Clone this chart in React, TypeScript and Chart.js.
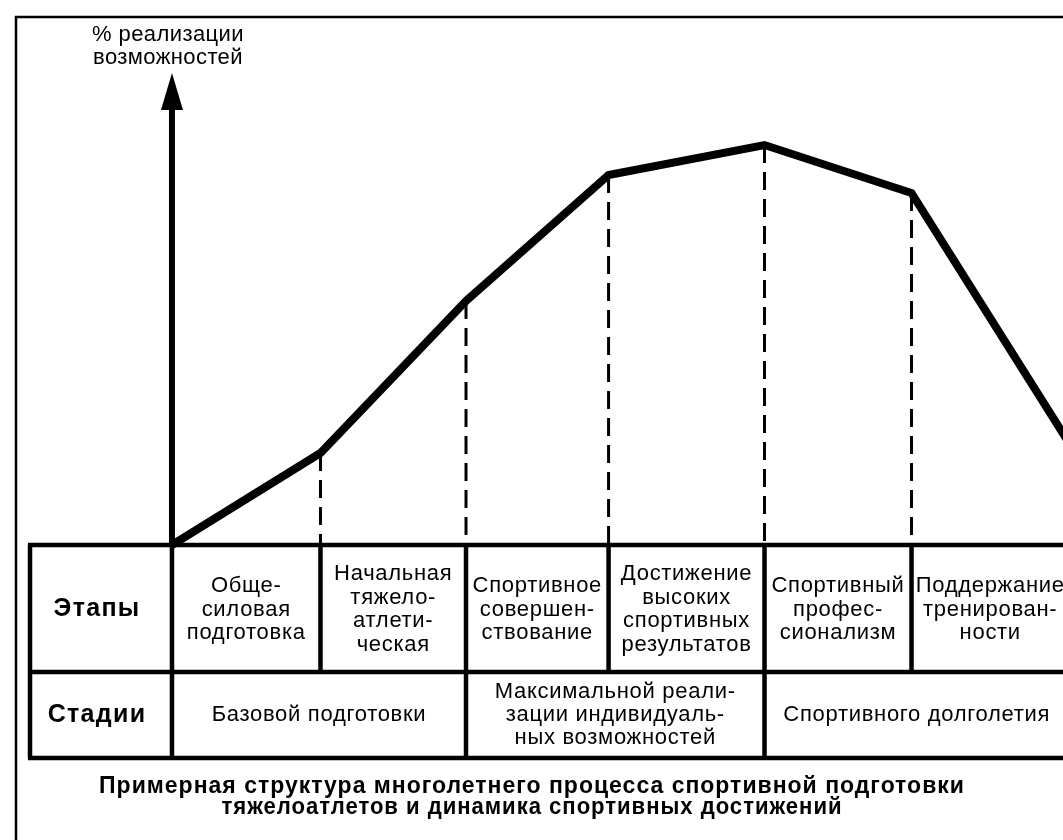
import React, { useEffect, useRef } from "react";
import { Chart, registerables } from "chart.js";

Chart.register(...registerables);

// Stage boundaries along the time axis (stage units)
const boundaryX = [0, 1.0, 1.98, 2.94, 3.99, 4.98, 6.04];
// Realization curve (% of possibilities, arbitrary 0..100 scale)
const realizationX = [0, 1.0, 1.98, 2.94, 3.99, 4.98, 6.04];
const realizationY = [0, 23, 61, 92.5, 100, 88, 25.5];

const stageLabels = [
  ["Обще-", "силовая", "подготовка"],
  ["Начальная", "тяжело-", "атлети-", "ческая"],
  ["Спортивное", "совершен-", "ствование"],
  ["Достижение", "высоких", "спортивных", "результатов"],
  ["Спортивный", "профес-", "сионализм"],
  ["Поддержание", "тренирован-", "ности"],
];
const periodLabels = [
  ["Базовой подготовки"],
  ["Максимальной реали-", "зации индивидуаль-", "ных возможностей"],
  ["Спортивного долголетия"],
];
const periodSpans = [
  [0, 2],
  [2, 4],
  [4, 6],
];
const rowHeaders = ["Этапы", "Стадии"];
const axisTitle = ["% реализации", "возможностей"];
const chartTitle = [
  "Примерная структура многолетнего процесса спортивной подготовки",
  "тяжелоатлетов и динамика спортивных достижений",
];

const FONT = '"Liberation Sans", Arial, Helvetica, sans-serif';

function setSpacing(ctx: any, v: string) {
  if ("letterSpacing" in ctx) ctx.letterSpacing = v;
}

const diagramPlugin = {
  id: "diagram",
  beforeDatasetsDraw(chart: any) {
    const ctx: CanvasRenderingContext2D = chart.ctx;
    const xs = chart.scales.x;
    const ys = chart.scales.y;
    const W = chart.width;
    const H = chart.height;
    const px = (v: number) => xs.getPixelForValue(v);
    const top = ys.getPixelForValue(0);
    const row1 = top + 127;
    const row2 = top + 213;
    const tableLeft = 30;
    const meta = chart.getDatasetMeta(0);

    ctx.save();
    ctx.fillStyle = "#fff";
    ctx.fillRect(0, 0, W, H);
    ctx.strokeStyle = "#000";
    ctx.fillStyle = "#000";

    // outer frame
    ctx.lineWidth = 2.5;
    ctx.beginPath();
    ctx.moveTo(16, H);
    ctx.lineTo(16, 17);
    ctx.lineTo(W, 17);
    ctx.stroke();

    // dashed drop lines from each curve vertex
    ctx.lineWidth = 3;
    ctx.setLineDash([18, 9]);
    meta.data.forEach((pt: any, i: number) => {
      if (i === 0) return;
      ctx.beginPath();
      ctx.moveTo(pt.x, pt.y);
      ctx.lineTo(pt.x, top);
      ctx.stroke();
    });
    ctx.setLineDash([]);

    // table
    ctx.lineWidth = 4.5;
    ctx.beginPath();
    [top, row1, row2].forEach((y) => {
      ctx.moveTo(tableLeft - 2, y);
      ctx.lineTo(W, y);
    });
    ctx.moveTo(tableLeft, top);
    ctx.lineTo(tableLeft, row2);
    boundaryX.forEach((b) => {
      ctx.moveTo(px(b), top);
      ctx.lineTo(px(b), row1);
    });
    const periodEdges = new Set<number>();
    periodSpans.forEach((s) => {
      periodEdges.add(s[0]);
      periodEdges.add(s[1]);
    });
    periodEdges.forEach((i) => {
      ctx.moveTo(px(boundaryX[i]), row1);
      ctx.lineTo(px(boundaryX[i]), row2);
    });
    ctx.stroke();

    // y axis with arrow
    const ax = px(0);
    ctx.lineWidth = 6;
    ctx.beginPath();
    ctx.moveTo(ax, top);
    ctx.lineTo(ax, 106);
    ctx.stroke();
    ctx.beginPath();
    ctx.moveTo(ax, 73);
    ctx.lineTo(ax - 11, 110);
    ctx.lineTo(ax + 11, 110);
    ctx.closePath();
    ctx.fill();

    ctx.textAlign = "center";
    ctx.textBaseline = "middle";

    // axis title
    ctx.font = `22px ${FONT}`;
    setSpacing(ctx, "0.4px");
    axisTitle.forEach((t, i) => ctx.fillText(t, 168, 35 + i * 23));

    // row headers
    ctx.font = `bold 25px ${FONT}`;
    setSpacing(ctx, "1.3px");
    ctx.fillText(rowHeaders[0], 97, (top + row1) / 2 + 1);
    ctx.fillText(rowHeaders[1], 97, (row1 + row2) / 2);

    // stage labels
    ctx.font = `22px ${FONT}`;
    setSpacing(ctx, "0.7px");
    const lh = 23.5;
    stageLabels.forEach((lines, i) => {
      const cx = (px(boundaryX[i]) + px(boundaryX[i + 1])) / 2;
      const cy = (top + row1) / 2 + 1;
      lines.forEach((t, j) => {
        ctx.fillText(t, cx, cy + (j - (lines.length - 1) / 2) * lh);
      });
    });

    // period labels
    periodLabels.forEach((lines, i) => {
      const [a, b] = periodSpans[i];
      const cx = (px(boundaryX[a]) + px(boundaryX[b])) / 2;
      const cy = (row1 + row2) / 2;
      lines.forEach((t, j) => {
        ctx.fillText(t, cx, cy + (j - (lines.length - 1) / 2) * 23);
      });
    });

    // chart title
    ctx.font = `bold 23px ${FONT}`;
    setSpacing(ctx, "1px");
    ctx.fillText(chartTitle[0], 532, row2 + 29, 868);
    ctx.fillText(chartTitle[1], 532, row2 + 50, 621);

    ctx.restore();
  },
};

export default function App() {
  const ref = useRef<HTMLCanvasElement | null>(null);
  useEffect(() => {
    if (!ref.current) return;
    const chart = new Chart(ref.current, {
      type: "line",
      data: {
        datasets: [
          {
            data: realizationX.map((x, i) => ({ x, y: realizationY[i] })),
            borderColor: "#000",
            borderWidth: 8,
            pointRadius: 0,
            tension: 0,
            borderJoinStyle: "miter",
            fill: false,
          },
        ],
      },
      options: {
        animation: false,
        responsive: false,
        devicePixelRatio: 1,
        layout: { padding: 0 },
        plugins: { legend: { display: false }, tooltip: { enabled: false }, title: { display: false } },
        scales: {
          x: { type: "linear", min: -1.158, max: 6.0, display: false },
          y: { type: "linear", min: -73.75, max: 136.25, display: false },
        },
      },
      plugins: [diagramPlugin],
    });
    return () => chart.destroy();
  }, []);
  return (
    <div style={{ position: "absolute", left: 0, top: 0, width: 1063, height: 840 }}>
      <canvas ref={ref} width={1063} height={840} style={{ display: "block", width: 1063, height: 840 }} />
    </div>
  );
}
